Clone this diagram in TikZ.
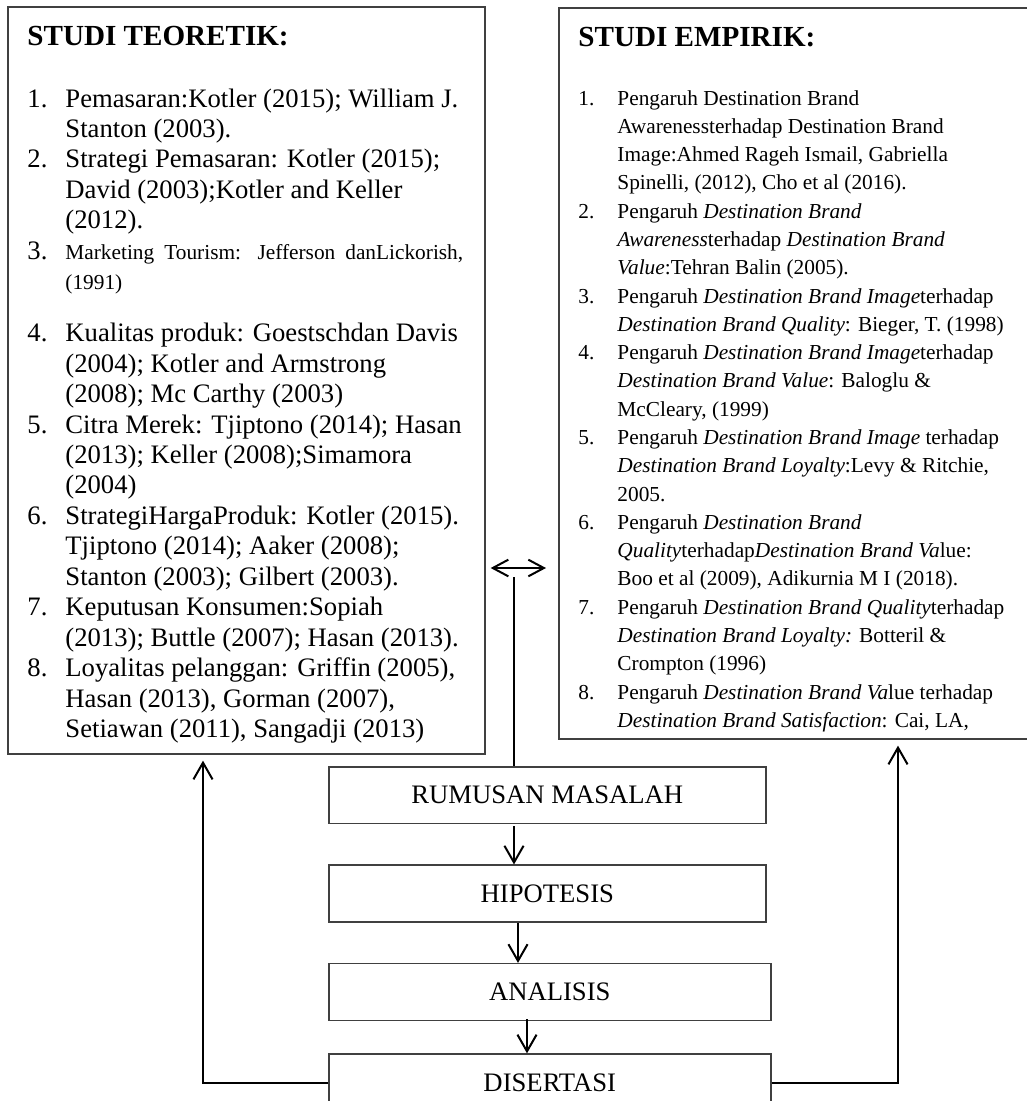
\documentclass[tikz,border=0pt]{standalone}
\usepackage{fontspec}
\setmainfont{Liberation Serif}
\usepackage{tikz}
\usetikzlibrary{arrows.meta,positioning,calc}

\begin{document}
\begin{tikzpicture}[
    x=0.45pt, y=-0.45pt,
    listbox/.style={rectangle, draw=black!75, line width=0.7pt, anchor=north west, inner sep=0pt},
    stage/.style={rectangle, draw=black!75, line width=0.7pt, minimum height=25.6pt, inner sep=0pt, font=\fontsize{12}{14}\selectfont},
    heading/.style={anchor=base west, inner sep=0pt, font=\fontsize{13.1}{15}\selectfont\bfseries},
    itemlist/.style={anchor=base west, inner sep=0pt},
    arrow/.style={-{Straight Barb[length=7.5pt, width=8.6pt]}, line width=0.9pt},
    dblarrow/.style={{Straight Barb[length=7pt, width=7.5pt]}-{Straight Barb[length=7pt, width=7.5pt]}, line width=0.9pt},
    link/.style={line width=0.9pt}
]
\useasboundingbox (0,0) rectangle (1027,1101);

% Kajian teori dan empiris
\node[listbox, minimum width=214.7pt, minimum height=336.2pt] (teori) at (7,6) {};
\node[listbox, minimum width=217pt, minimum height=329pt] (empiris) at (558,7) {};

\node[heading] (teorijudul) at (27,45) {STUDI TEORETIK:};
\node[itemlist, font=\fontsize{12}{13.7}\selectfont] (teoriisi) at (27,107) {%
\begin{tabular}[t]{@{}p{17.1pt}@{}l@{}}
1. & Pemasaran:Kotler (2015); William J.\\
   & Stanton (2003).\\
2. & Strategi Pemasaran: Kotler (2015);\\
   & David (2003);Kotler and Keller\\
   & (2012).\\
3. & {\fontsize{9.6}{11}\selectfont\makebox[179pt][s]{Marketing Tourism: Jefferson danLickorish,}}\\
   & {\fontsize{9.6}{11}\selectfont (1991)}\\[9.7pt]
4. & Kualitas produk: Goestschdan Davis\\
   & (2004); Kotler and Armstrong\\
   & (2008); Mc Carthy (2003)\\
5. & Citra Merek: Tjiptono (2014); Hasan\\
   & (2013); Keller (2008);Simamora\\
   & (2004)\\
6. & StrategiHargaProduk: Kotler (2015).\\
   & Tjiptono (2014); Aaker (2008);\\
   & Stanton (2003); Gilbert (2003).\\
7. & Keputusan Konsumen:Sopiah\\
   & (2013); Buttle (2007); Hasan (2013).\\
8. & Loyalitas pelanggan: Griffin (2005),\\
   & Hasan (2013), Gorman (2007),\\
   & Setiawan (2011), Sangadji (2013)
\end{tabular}};

\node[heading] (empirisjudul) at (578,46) {STUDI EMPIRIK:};
\node[itemlist, font=\fontsize{9.6}{12.73}\selectfont] (empirisisi) at (578,105) {%
\begin{tabular}[t]{@{}p{17.55pt}@{}l@{}}
1. & Pengaruh Destination Brand\\
   & Awarenessterhadap Destination Brand\\
   & Image:Ahmed Rageh Ismail, Gabriella\\
   & Spinelli, (2012), Cho et al (2016).\\
2. & Pengaruh \textit{Destination Brand}\\
   & \textit{Awareness}terhadap \textit{Destination Brand}\\
   & \textit{Value}:Tehran Balin (2005).\\
3. & Pengaruh \textit{Destination Brand Image}terhadap\\
   & \textit{Destination Brand Quality}: Bieger, T. (1998)\\
4. & Pengaruh \textit{Destination Brand Image}terhadap\\
   & \textit{Destination Brand Value}: Baloglu \&\\
   & McCleary, (1999)\\
5. & Pengaruh \textit{Destination Brand Image} terhadap\\
   & \textit{Destination Brand Loyalty}:Levy \& Ritchie,\\
   & 2005.\\
6. & Pengaruh \textit{Destination Brand}\\
   & \textit{Quality}terhadap\textit{Destination Brand Va}lue:\\
   & Boo et al (2009), Adikurnia M I (2018).\\
7. & Pengaruh \textit{Destination Brand Quality}terhadap\\
   & \textit{Destination Brand Loyalty:} Botteril \&\\
   & Crompton (1996)\\
8. & Pengaruh \textit{Destination Brand Va}lue terhadap\\
   & \textit{Destination Brand Satisfaction}: Cai, LA,
\end{tabular}};

% Alur penelitian
\node[stage, minimum width=196.7pt, anchor=north west] (rumusan) at (328,766) {RUMUSAN MASALAH};
\node[stage, minimum width=196.7pt, below=18pt of rumusan.south west, anchor=north west] (hipotesis) {HIPOTESIS};
\node[stage, minimum width=198.9pt, below=18pt of hipotesis.south west, anchor=north west] (analisis) {ANALISIS};
\node[stage, minimum width=198.9pt, below=14.4pt of analisis.south west, anchor=north west] (disertasi) {DISERTASI};

\draw[arrow] ($(rumusan.south west)+(186,2)$) -- ($(hipotesis.north west)+(186,0)$);
\draw[arrow] ($(hipotesis.south west)+(190,0)$) -- ($(analisis.north west)+(190,0)$);
\draw[arrow] ($(analisis.south west)+(199,-2)$) -- ($(disertasi.north west)+(199,0)$);

% Hubungan ke kajian
\coordinate (cabang) at (514,577);
\draw[link] (cabang) -- (cabang |- rumusan.north);
\draw[dblarrow] ($(teori.north east)+(5,562)$) -- ($(empiris.north west)+(-12,561)$);

\draw[arrow] (disertasi.west) -| ($(teori.south west)+(196,6)$);
\draw[arrow] (disertasi.east) -| ($(empiris.south west)+(340,6)$);

\end{tikzpicture}
\end{document}
